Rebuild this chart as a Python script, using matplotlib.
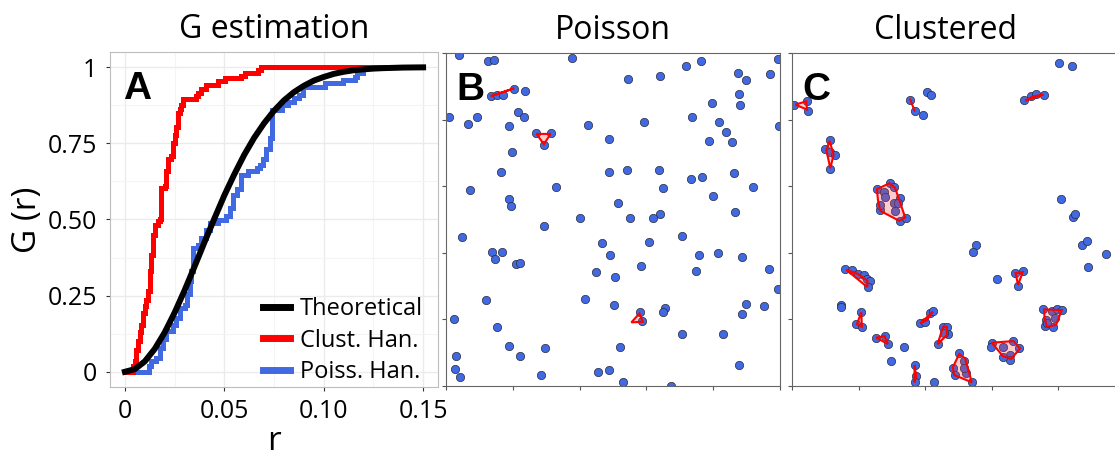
import matplotlib
matplotlib.use("Agg")
import matplotlib.pyplot as plt
from matplotlib.patches import Polygon
from matplotlib.ticker import MultipleLocator

plt.rcParams['font.family'] = ['Open Sans', 'DejaVu Sans']

# ---------------- G function estimates ----------------
theo_r = [0, 0.005, 0.01, 0.015, 0.02, 0.025, 0.03, 0.035, 0.04, 0.045, 0.05,
          0.055, 0.06, 0.065, 0.07, 0.075, 0.08, 0.085, 0.09, 0.095, 0.10,
          0.105, 0.11, 0.115, 0.12, 0.125, 0.13, 0.14, 0.15]
theo_g = [0, 0.0086, 0.034, 0.075, 0.129, 0.194, 0.267, 0.345, 0.425, 0.503, 0.579,
          0.648, 0.712, 0.768, 0.816, 0.857, 0.891, 0.918, 0.939, 0.956, 0.968,
          0.978, 0.985, 0.990, 0.993, 0.9955, 0.997, 0.9989, 0.9996]

clust_r = [0, 0.004, 0.0049, 0.0057, 0.0065, 0.0074, 0.0082, 0.009, 0.0099, 0.0107,
           0.0116, 0.0124, 0.0132, 0.0141, 0.015, 0.0166, 0.0175, 0.0183, 0.020,
           0.0208, 0.0216, 0.0231, 0.024, 0.025, 0.0258, 0.0267, 0.0275, 0.0283,
           0.0292, 0.0359, 0.0368, 0.0385, 0.0409, 0.0468, 0.0502, 0.0586, 0.0603,
           0.067, 0.0687, 0.15]
clust_g = [0, 0.02, 0.035, 0.07, 0.10, 0.13, 0.155, 0.193, 0.215, 0.237,
           0.264, 0.33, 0.385, 0.45, 0.483, 0.494, 0.50, 0.603, 0.61,
           0.66, 0.70, 0.71, 0.75, 0.778, 0.805, 0.849, 0.862, 0.876,
           0.896, 0.905, 0.915, 0.93, 0.942, 0.955, 0.964, 0.97, 0.98,
           0.991, 1.0, 1.0]

poiss_r = [0, 0.0122, 0.0133, 0.0158, 0.0175, 0.0191, 0.0208, 0.0242, 0.0258, 0.0275,
           0.030, 0.031, 0.0326, 0.0334, 0.0342, 0.0367, 0.0384, 0.041, 0.0426,
           0.0468, 0.051, 0.0527, 0.0544, 0.0565, 0.0585, 0.062, 0.0663, 0.0678,
           0.0695, 0.071, 0.0728, 0.0738, 0.0789, 0.082, 0.085, 0.0875, 0.0897,
           0.1007, 0.1099, 0.1158, 0.1166, 0.12]
poiss_g = [0, 0.018, 0.035, 0.046, 0.079, 0.106, 0.133, 0.155, 0.177, 0.21,
           0.22, 0.255, 0.297, 0.33, 0.407, 0.417, 0.44, 0.467, 0.489,
           0.497, 0.51, 0.538, 0.581, 0.60, 0.647, 0.658, 0.669, 0.68,
           0.70, 0.73, 0.767, 0.86, 0.876, 0.887, 0.90, 0.91, 0.936,
           0.947, 0.958, 0.969, 0.98, 1.0]

x_ticks = [0, 0.05, 0.10, 0.15]
x_tick_labels = ["0", "0.05", "0.10", "0.15"]
y_ticks = [0, 0.25, 0.50, 0.75, 1]
y_tick_labels = ["0", "0.25", "0.50", "0.75", "1"]

# ---------------- Point patterns ----------------
poisson_x = [0.040, 0.127, 0.144, 0.376, 0.995, 0.718, 0.763, 0.873, 0.898, 0.970,
             0.641, 0.544, 0.134, 0.152, 0.170, 0.204, 0.237, 0.878, 0.880, 0.797,
             0.215, 0.234, 0.010, 0.092, 0.065, 0.188, 0.594, 0.426, 0.738, 0.818,
             0.998, 0.838, 0.788, 0.856, 0.268, 0.313, 0.293, 0.487, 0.197, 0.164,
             0.489, 0.543, 0.639, 0.861, 0.733, 0.766, 0.328, 0.651, 0.072, 0.918,
             0.800, 0.190, 0.195, 0.516, 0.865, 0.641, 0.401, 0.552, 0.619, 0.293,
             0.047, 0.706, 0.466, 0.609, 0.139, 0.168, 0.146, 0.490, 0.813, 0.756,
             0.887, 0.210, 0.222, 0.584, 0.449, 0.748, 0.968, 0.507, 0.995, 0.120,
             0.416, 0.503, 0.899, 0.953, 0.655, 0.649, 0.887, 0.024, 0.581, 0.588,
             0.708, 0.830, 0.153, 0.190, 0.222, 0.296, 0.522, 0.029, 0.027, 0.042,
             0.285, 0.456, 0.488, 0.530, 0.673, 0.878]
poisson_y = [0.993, 0.975, 0.978, 0.985, 0.983, 0.960, 0.977, 0.940, 0.920, 0.937,
             0.930, 0.922, 0.872, 0.875, 0.875, 0.893, 0.885, 0.878, 0.843, 0.850,
             0.823, 0.809, 0.809, 0.807, 0.787, 0.781, 0.793, 0.785, 0.807, 0.793,
             0.782, 0.763, 0.736, 0.732, 0.760, 0.760, 0.724, 0.742, 0.704, 0.642,
             0.644, 0.649, 0.649, 0.641, 0.622, 0.629, 0.597, 0.596, 0.589, 0.598,
             0.571, 0.561, 0.542, 0.550, 0.522, 0.516, 0.505, 0.504, 0.504, 0.479,
             0.447, 0.449, 0.429, 0.431, 0.401, 0.401, 0.381, 0.394, 0.399, 0.393,
             0.388, 0.366, 0.369, 0.359, 0.342, 0.344, 0.351, 0.328, 0.291, 0.259,
             0.262, 0.243, 0.245, 0.240, 0.235, 0.223, 0.216, 0.202, 0.221, 0.195,
             0.155, 0.155, 0.178, 0.120, 0.090, 0.113, 0.116, 0.091, 0.051, 0.027,
             0.033, 0.043, 0.048, 0.013, 0.000, 0.063]

poisson_hulls = [
    [(0.134, 0.870), (0.204, 0.894), (0.154, 0.877)],
    [(0.271, 0.757), (0.313, 0.757), (0.293, 0.726)],
    [(0.579, 0.218), (0.555, 0.191), (0.589, 0.193)],
]

clustered_x = [0.803, 0.840, 0.007, 0.045, 0.047, 0.355, 0.368, 0.405, 0.417, 0.392,
               0.697, 0.717, 0.733, 0.758, 0.113, 0.100, 0.113, 0.130, 0.115,
               0.255, 0.293, 0.307, 0.323, 0.277, 0.280, 0.305, 0.317, 0.310, 0.263,
               0.265, 0.323, 0.343,
               0.808, 0.843, 0.851, 0.872, 0.885, 0.943, 0.889, 0.553, 0.545, 0.615,
               0.671, 0.695, 0.679,
               0.160, 0.180, 0.197, 0.217, 0.225, 0.233, 0.227, 0.148, 0.147,
               0.208, 0.193, 0.210, 0.253, 0.278, 0.288, 0.298, 0.335,
               0.385, 0.400, 0.415, 0.423, 0.453, 0.465, 0.468, 0.438, 0.455,
               0.368, 0.373, 0.368, 0.427,
               0.502, 0.483, 0.490, 0.518, 0.523, 0.540, 0.518,
               0.600, 0.598, 0.635, 0.655, 0.665, 0.682, 0.655, 0.635,
               0.755, 0.762, 0.780, 0.797, 0.811, 0.760, 0.785, 0.790, 0.765]
clustered_y = [0.970, 0.960, 0.845, 0.857, 0.827, 0.860, 0.827, 0.883, 0.875, 0.814,
               0.858, 0.872, 0.877, 0.874, 0.739, 0.712, 0.702, 0.694, 0.652,
               0.592, 0.611, 0.599, 0.566, 0.584, 0.567, 0.551, 0.549, 0.527, 0.529,
               0.543, 0.496, 0.504,
               0.561, 0.509, 0.516, 0.422, 0.436, 0.397, 0.356, 0.422, 0.401, 0.322,
               0.339, 0.346, 0.301,
               0.350, 0.347, 0.336, 0.334, 0.321, 0.314, 0.296, 0.243, 0.238,
               0.221, 0.186, 0.176, 0.145, 0.150, 0.126, 0.076, 0.118,
               0.190, 0.193, 0.218, 0.225, 0.177, 0.178, 0.155, 0.126, 0.158,
               0.063, 0.030, 0.011, 0.013,
               0.098, 0.053, 0.032, 0.075, 0.040, 0.013, 0.053,
               0.130, 0.118, 0.118, 0.093, 0.135, 0.113, 0.078, 0.088,
               0.230, 0.198, 0.225, 0.230, 0.228, 0.180, 0.176, 0.203, 0.190]

clustered_hulls = [
    [(0.010, 0.845), (0.043, 0.855), (0.045, 0.830)],
    [(0.355, 0.860), (0.368, 0.827)],
    [(0.700, 0.857), (0.755, 0.875), (0.725, 0.870)],
    [(0.113, 0.736), (0.103, 0.709), (0.115, 0.654), (0.125, 0.694)],
    [(0.255, 0.591), (0.293, 0.609), (0.310, 0.594), (0.340, 0.506),
     (0.322, 0.496), (0.265, 0.526), (0.258, 0.559)],
    [(0.163, 0.349), (0.197, 0.337), (0.227, 0.316), (0.226, 0.297)],
    [(0.208, 0.221), (0.195, 0.186), (0.210, 0.178)],
    [(0.253, 0.145), (0.278, 0.150), (0.288, 0.126)],
    [(0.385, 0.188), (0.423, 0.223), (0.405, 0.198)],
    [(0.453, 0.176), (0.465, 0.178), (0.465, 0.153), (0.437, 0.125)],
    [(0.368, 0.063), (0.373, 0.030), (0.368, 0.011)],
    [(0.502, 0.096), (0.520, 0.083), (0.540, 0.011), (0.487, 0.033), (0.483, 0.056)],
    [(0.600, 0.130), (0.665, 0.135), (0.685, 0.113), (0.658, 0.081), (0.633, 0.090)],
    [(0.671, 0.339), (0.693, 0.342), (0.679, 0.304)],
    [(0.757, 0.230), (0.810, 0.228), (0.793, 0.183), (0.765, 0.178), (0.758, 0.208)],
]

# ---------------- Figure ----------------
fig = plt.figure(figsize=(11.15, 4.57), dpi=100)
W, H = 1115, 457


def box(left, top, width, height):
    return [left / W, 1 - (top + height) / H, width / W, height / H]


axA = fig.add_axes(box(110, 52, 328, 335))
axB = fig.add_axes(box(446, 53, 334, 333))
axC = fig.add_axes(box(792, 53, 333, 333))

# Panel A: G estimation
axA.set_xlim(-0.0075, 0.1575)
axA.set_ylim(-0.05, 1.05)
axA.xaxis.set_minor_locator(MultipleLocator(0.025))
axA.yaxis.set_minor_locator(MultipleLocator(0.125))
axA.grid(which='major', color='#ebebeb', linewidth=1.0)
axA.grid(which='minor', color='#f4f4f4', linewidth=0.8)
axA.set_axisbelow(True)
axA.step(poiss_r, poiss_g, where='post', color='#4169e1', lw=3.6,
         solid_joinstyle='miter', label='Poiss. Han.', zorder=2)
axA.step(clust_r, clust_g, where='post', color='#ff0000', lw=3.6,
         solid_joinstyle='miter', label='Clust. Han.', zorder=3)
axA.plot(theo_r, theo_g, color='black', lw=4.3, label='Theoretical', zorder=4)
axA.set_xticks(x_ticks)
axA.set_xticklabels(x_tick_labels)
axA.set_yticks(y_ticks)
axA.set_yticklabels(y_tick_labels)
axA.tick_params(which='both', labelsize=18, length=3, color='#333333', pad=6)
axA.tick_params(which='minor', length=0)
for sp in axA.spines.values():
    sp.set_color('#bdbdbd')
    sp.set_linewidth(0.8)
axA.set_xlabel('r', fontsize=24, labelpad=0)
axA.set_ylabel('G (r)', fontsize=24, labelpad=3)
axA.set_title('G estimation', fontsize=23, pad=10)
handles, labels = axA.get_legend_handles_labels()
order = [2, 1, 0]
leg = axA.legend([handles[i] for i in order], [labels[i] for i in order],
                 loc='lower right', frameon=False, fontsize=17, handlelength=1.15,
                 handletextpad=0.4, labelspacing=0.32, borderaxespad=0.0,
                 bbox_to_anchor=(0.982, -0.02))
for line in leg.get_lines():
    line.set_linewidth(5)
axA.text(0.04, 0.86, 'A', transform=axA.transAxes, fontsize=28,
         fontweight='bold', family='Liberation Sans', va='baseline')


def point_panel(ax, xs, ys, hulls, title, letter, title_x=0.5):
    ax.set_xlim(0, 1)
    ax.set_ylim(0, 1)
    ax.scatter(xs, ys, s=36, color='#4169e1', edgecolors='#2a2a3a',
               linewidths=0.5, zorder=2)
    for hull in hulls:
        if len(hull) >= 3:
            ax.add_patch(Polygon(hull, closed=True, facecolor=(1, 0.2, 0.2, 0.25),
                                 edgecolor='#ff0000', lw=1.5, zorder=3))
        else:
            xs_h, ys_h = zip(*hull)
            ax.plot(xs_h, ys_h, color='#ff0000', lw=1.5, zorder=3)
    ax.set_xticks([0, 0.2, 0.4, 0.6, 0.8, 1.0])
    ax.set_yticks([0, 0.2, 0.4, 0.6, 0.8, 1.0])
    ax.set_xticklabels([])
    ax.set_yticklabels([])
    ax.tick_params(length=3, color='#555555', width=0.8)
    for sp in ax.spines.values():
        sp.set_color('#666666')
        sp.set_linewidth(0.8)
    ax.set_title(title, fontsize=23, pad=10, x=title_x)
    ax.text(0.03, 0.86, letter, transform=ax.transAxes, fontsize=28,
            fontweight='bold', family='Liberation Sans', va='baseline', zorder=5)


point_panel(axB, poisson_x, poisson_y, poisson_hulls, 'Poisson', 'B')
point_panel(axC, clustered_x, clustered_y, clustered_hulls, 'Clustered', 'C',
            title_x=0.46)

fig.savefig('out.png', dpi=100)
